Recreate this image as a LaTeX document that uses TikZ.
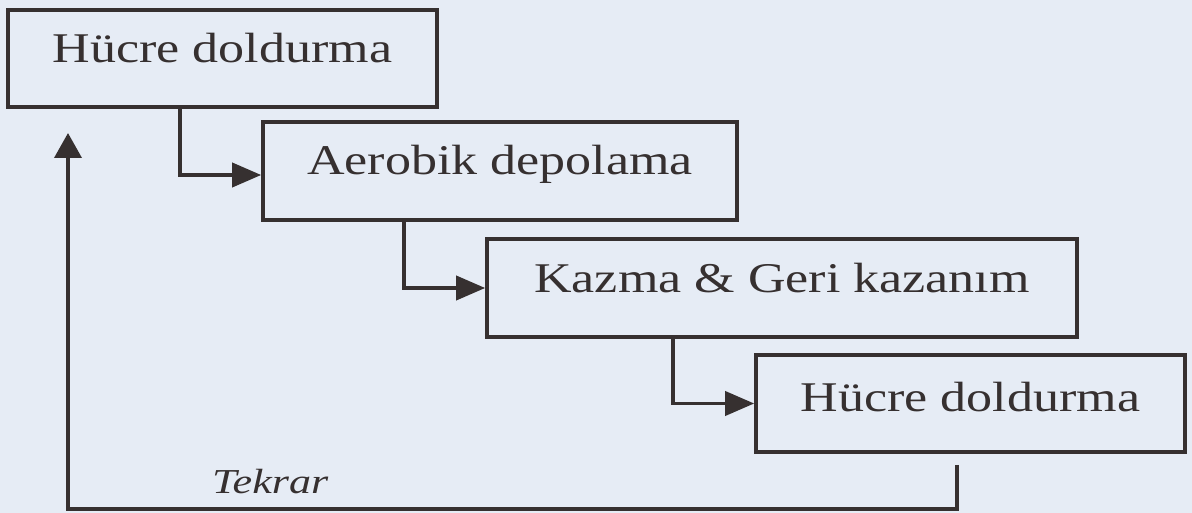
\documentclass[tikz,border=0pt]{standalone}
\usepackage{fontspec}
\usepackage{graphicx}
\setmainfont{Liberation Serif}
\usetikzlibrary{arrows.meta}
\definecolor{bg}{HTML}{E6ECF5}
\definecolor{ink}{HTML}{363030}
\begin{document}
\begin{tikzpicture}[x=1pt,y=-1pt,
  box/.style={draw=ink, line width=3.6pt, rectangle, inner sep=0pt},
  lbl/.style={text=ink, font=\fontsize{42.3}{50}\selectfont, anchor=base, inner sep=0pt},
  conn/.style={draw=ink, line width=3.8pt, -{Triangle[length=29pt,width=24pt]}}]
\fill[bg] (0,0) rectangle (1192,513);
\useasboundingbox (0,0) rectangle (1192,513);
% boxes
\node[box, minimum width=429pt, minimum height=97pt] (b1) at (222.5,58.5) {};
\node[box, minimum width=474pt, minimum height=98pt] (b2) at (500,171) {};
\node[box, minimum width=590pt, minimum height=98pt] (b3) at (782,288) {};
\node[box, minimum width=429pt, minimum height=97pt] (b4) at (970.5,403.5) {};
% labels
\node[lbl] (t1) at (222.5,63) {\scalebox{1.23}[1]{Hücre doldurma}};
\node[lbl] (t2) at (500,175) {\scalebox{1.23}[1]{Aerobik depolama}};
\node[lbl] (t3) at (782,292) {\scalebox{1.23}[1]{Kazma \& Geri kazanım}};
\node[lbl] (t4) at (970.5,411) {\scalebox{1.23}[1]{Hücre doldurma}};
% connectors
\draw[conn] ([xshift=174pt]b1.south west) |- ([yshift=-4pt]b2.west);
\draw[conn] ([xshift=143pt]b2.south west) |- (b3.west);
\draw[conn] ([xshift=188pt]b3.south west) |- (b4.west);
% feedback loop
\coordinate (ret) at (68,509);
\coordinate (tip) at (68,133);
\draw[conn, -{Triangle[length=25pt,width=27pt]}] ([xshift=203pt,yshift=-11pt]b4.south west) |- (ret) -- (tip);
\node[text=ink, font=\fontsize{35}{40}\selectfont\itshape, anchor=base west, inner sep=0pt] (tk) at (212,493) {\scalebox{1.26}[1]{Tekrar}};
\end{tikzpicture}
\end{document}
